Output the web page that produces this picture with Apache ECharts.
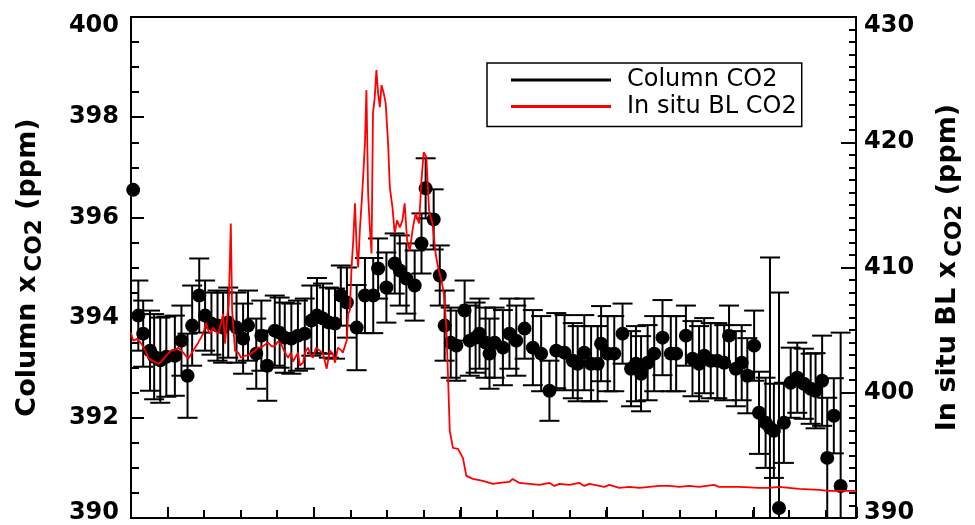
<!DOCTYPE html>
<html><head><meta charset="utf-8">
<script src="https://cdn.jsdelivr.net/npm/echarts@6/dist/echarts.min.js"></script>
<style>html,body{margin:0;padding:0;background:#fff}#c{width:975px;height:525px}</style>
</head><body><div id="c"></div>
<script>
// x: minutes after the first major tick
const colTime = [-14.1,-12.0,-10.0,-7.2,-5.5,-3.0,-0.5,3.0,5.7,8.2,10.1,13.0,15.4,18.0,20.5,22.8,24.9,28.3,31.0,33.0,36.4,38.5,40.9,44.0,46.0,48.1,50.8,53.5,56.3,59.0,61.3,63.8,66.2,68.7,71.1,73.6,77.6,81.0,84.4,86.4,89.8,93.2,95.3,98.0,101.4,104.2,105.9,109.2,111.7,113.7,116.2,118.5,121.9,124.0,126.4,128.0,130.5,132.1,134.2,137.6,140.3,143.1,146.5,149.9,153.3,156.7,159.5,162.9,166.3,168.3,171.0,173.8,176.5,177.9,180.6,183.3,186.7,190.2,192.2,194.3,197.0,199.7,203.1,206.5,208.7,212.7,215.4,218.1,220.2,222.9,225.6,228.4,230.4,233.2,235.6,237.9,240.7,242.7,245.4,247.2,248.8,250.9,252.9,255.7,258.4,261.1,263.9,265.9,268.6,270.7,273.4,276.2];
const colValue = [396.55,394.04,393.68,393.34,393.22,393.15,393.22,393.24,393.54,392.84,393.84,394.44,394.04,393.88,393.84,393.8,393.9,393.8,393.58,393.84,393.28,393.64,393.04,393.74,393.7,393.6,393.58,393.64,393.68,393.94,394.04,393.98,393.9,393.88,394.44,394.3,393.8,394.44,394.44,394.98,394.6,395.08,394.94,394.78,394.64,395.48,396.58,395.96,394.84,393.84,393.5,393.44,394.14,393.54,393.6,393.68,393.5,393.28,393.5,393.4,393.68,393.54,393.78,393.4,393.28,392.54,393.34,393.3,393.14,393.08,393.3,393.08,393.08,393.48,393.28,393.28,393.68,392.98,393.08,392.88,393.1,393.28,393.6,393.28,393.28,393.64,393.18,393.08,393.24,393.14,393.14,393.1,393.64,392.98,393.1,392.84,393.44,392.1,391.9,391.8,391.74,390.2,391.9,392.7,392.8,392.68,392.58,392.54,392.74,391.2,392.04,390.64];
const colError = [0,0.7,0.66,0.8,0.85,0.85,0.8,0.8,0.7,0.84,0.8,0.74,0.7,0.62,0.7,0.7,0.7,0.7,0.7,0.7,0.7,0.7,0.7,0.7,0.7,0.7,0.7,0.7,0.7,0.7,0.75,0.7,0.7,0.7,0.6,0.7,0.85,0.75,0.75,0.6,0.7,0.6,0.7,0.7,0.7,0.6,0.6,0.6,0.6,0.7,0.7,0.7,0.6,0.7,0.7,0.7,0.7,0.7,0.7,0.75,0.7,0.7,0.6,0.75,0.75,0.6,0.75,0.75,0.75,0.75,0.75,0.75,0.75,0.75,0.75,0.75,0.6,0.75,0.75,0.75,0.75,0.75,0.75,0.75,0.75,0.6,0.75,0.75,0.75,0.75,0.75,0.75,0.6,0.75,0.75,0.75,0.7,0.82,0.9,3.4,0.94,4.3,0.8,0.7,0.7,0.7,0.7,0.75,0.9,1.2,0.75,3.06];

const blTime = [-15,-14.1,-12.4,-10.8,-9.1,-7.9,-6.3,-3.8,-2.2,-0.5,1.5,3.1,4.4,6.4,8.5,10.5,12.6,14.6,15.8,16.7,17.5,18.7,19.9,20.8,22.0,22.8,23.6,24.4,25.1,25.5,25.95,26.5,27.7,29.0,30.2,31.8,33.0,34.7,35.9,37.1,38.4,40.0,41.2,42.9,44.1,45.3,46.6,47.8,49.4,50.6,51.5,52.3,53.5,54.3,55.6,56.4,57.6,58.8,59.7,60.9,62.5,63.8,65.3,66.6,67.8,68.7,69.9,71.4,71.9,73.5,74.1,74.8,75.5,76.2,76.9,77.6,78.2,78.9,79.7,80.3,81.0,81.6,82.3,83.0,83.7,84.3,85.0,85.7,86.4,87.1,87.8,88.7,89.5,90.5,91.2,92.3,93.2,94.2,95.3,96.4,97.3,98.3,99.4,100.7,101.8,103.2,104.2,105.1,106.2,107.3,108.7,110.0,111.0,112.4,113.4,114.4,115.1,115.8,117.1,119.2,121.2,122.6,125.3,129.4,133.5,136.2,140.3,141.6,144.4,148.5,152.6,156.7,158.8,160.8,164.9,169.0,171.0,173.1,177.2,179.2,181.3,185.4,189.5,193.6,197.7,201.8,205.9,210.0,214.0,218.1,224.3,226.3,234.5,242.7,246.8,250.9,255.0,259.1,267.3,271.4,282.5];
const blValue = [404.8,404.16,404.3,403.92,403.36,402.8,402.56,402.32,402.56,402.96,403.36,403.44,403.6,403.2,402.72,403.36,404.0,404.72,405.6,404.96,404.72,405.2,404.88,404.72,405.6,406.32,403.92,405.92,407.12,410.0,413.52,406.56,403.36,403.2,402.8,402.96,402.96,403.2,403.36,403.6,403.6,403.84,404.0,403.68,403.76,404.08,403.92,403.36,402.8,403.2,402.48,402.4,403.2,402.16,402.4,403.2,403.6,402.96,402.8,403.6,403.36,403.12,401.92,403.36,403.12,402.4,403.6,403.36,403.2,404.16,406.32,406.56,410.0,412.16,415.12,411.6,410.0,412.96,415.36,417.36,419.92,424.16,415.92,413.2,411.12,422.32,423.52,425.76,423.92,422.8,424.56,423.92,423.12,419.92,416.4,414.8,412.72,413.76,413.2,413.76,415.12,412.16,411.36,413.2,414.32,413.52,416.96,419.2,418.8,414.56,413.52,411.12,410.0,408.96,407.92,405.2,401.2,396.96,395.6,395.52,394.8,393.36,393.12,392.96,392.72,392.8,392.88,393.12,392.8,392.72,392.64,392.8,392.56,392.72,392.64,392.8,392.56,392.72,392.56,392.48,392.64,392.4,392.48,392.4,392.48,392.56,392.56,392.48,392.56,392.48,392.64,392.48,392.48,392.4,392.4,392.48,392.4,392.32,392.24,392.16,392.16];

const leftTicks = {min: 390, max: 400, step: 2};
const rightTicks = {min: 390, max: 430, step: 10};
const xRange = {min: -15, max: 282.5, minorStep: 15, majorStep: 60};
const seriesNames = ['Column CO2', 'In situ BL CO2'];

const FONT = 'DejaVu Sans';
const chart = echarts.init(document.getElementById('c'), null, {renderer: 'canvas'});

const errData = colTime.map((t, i) => [t, colValue[i] - colError[i], colValue[i] + colError[i]]);
const dotData = colTime.map((t, i) => [t, colValue[i]]);
const blData = blTime.map((t, i) => [t, blValue[i]]);

// plot frame
const G = {left: 131, right: 118, top: 17, bottom: 7};
const plotW = 975 - G.left - G.right;
const pxPerUnit = plotW / (xRange.max - xRange.min);
// second (tick-only) grid starting at the first major tick
const G2left = G.left + (0 - xRange.min) * pxPerUnit;

function edgeLabel(topVal, botVal) {
  return function (v) {
    if (v === topVal) return '{t|' + v + '}';
    if (v === botVal) return '{b|' + v + '}';
    return '{n|' + v + '}';
  };
}
const lblStyle = {fontFamily: FONT, fontWeight: 'bold', fontSize: 24, color: '#000'};
const lblRich = {
  n: Object.assign({}, lblStyle),
  t: Object.assign({padding: [18, 0, 0, 0]}, lblStyle),
  b: Object.assign({padding: [0, 0, 10, 0]}, lblStyle)
};
const nameRich = {
  m: {fontFamily: FONT, fontWeight: 'bold', fontSize: 27, color: '#000'},
  s: {fontFamily: FONT, fontWeight: 'bold', fontSize: 23, color: '#000', padding: [16, 0, 0, 4]}
};

chart.setOption({
  animation: false,
  backgroundColor: '#fff',
  grid: [
    {left: G.left, right: G.right, top: G.top, bottom: G.bottom, show: true, borderColor: '#000', borderWidth: 2},
    {left: G2left, right: G.right, top: G.top, bottom: G.bottom, show: false}
  ],
  legend: {
    orient: 'vertical', left: 487, top: 63,
    backgroundColor: '#fff', borderColor: '#000', borderWidth: 1.5,
    padding: [5, 5, 8, 24], itemGap: 2.5, itemWidth: 100, itemHeight: 3,
    textStyle: {fontFamily: FONT, fontSize: 24, color: '#000', lineHeight: 22, padding: [0, 0, 0, 11]},
    data: [
      {name: seriesNames[0], icon: 'rect', itemStyle: {color: '#000'}},
      {name: seriesNames[1], icon: 'rect', itemStyle: {color: '#ff0000'}}
    ]
  },
  xAxis: [
    {
      type: 'value', gridIndex: 0, min: xRange.min, max: xRange.max, interval: xRange.minorStep,
      axisLabel: {show: false}, splitLine: {show: false},
      axisLine: {show: true, onZero: false, lineStyle: {color: '#000', width: 2}},
      axisTick: {show: true, inside: true, length: 8, lineStyle: {color: '#000', width: 2}}
    },
    {
      type: 'value', gridIndex: 1, min: 0, max: xRange.max, interval: xRange.majorStep,
      axisLabel: {show: false}, splitLine: {show: false},
      axisLine: {show: false, onZero: false},
      axisTick: {show: true, inside: true, length: 11, lineStyle: {color: '#000', width: 2}}
    }
  ],
  yAxis: [
    {
      type: 'value', gridIndex: 0, position: 'left', min: leftTicks.min, max: leftTicks.max, interval: leftTicks.step,
      name: '{m|Column x}{s|CO2}{m| (ppm)}', nameLocation: 'middle', nameGap: 84, nameRotate: 90,
      nameTextStyle: {rich: nameRich},
      axisLine: {show: true, onZero: false, lineStyle: {color: '#000', width: 2}},
      axisTick: {show: true, inside: true, length: 13, lineStyle: {color: '#000', width: 2}},
      minorTick: {show: true, splitNumber: 4, length: 8, lineStyle: {color: '#000', width: 2}},
      axisLabel: {margin: 12, formatter: edgeLabel(400, 390), rich: lblRich},
      splitLine: {show: false}
    },
    {
      type: 'value', gridIndex: 0, position: 'right', min: rightTicks.min, max: rightTicks.max, interval: rightTicks.step,
      name: '{m|In situ BL x}{s|CO2}{m| (ppm)}', nameLocation: 'middle', nameGap: 72, nameRotate: 90,
      nameTextStyle: {rich: nameRich},
      axisLine: {show: true, onZero: false, lineStyle: {color: '#000', width: 2}},
      axisTick: {show: true, inside: true, length: 15, lineStyle: {color: '#000', width: 2}},
      minorTick: {show: true, splitNumber: 10, length: 7, lineStyle: {color: '#000', width: 2}},
      axisLabel: {margin: 8, formatter: edgeLabel(430, 390), rich: lblRich},
      splitLine: {show: false}
    },
    {
      type: 'value', gridIndex: 1, min: 0, max: 1, show: false
    }
  ],
  series: [
    {
      name: seriesNames[0], type: 'custom', xAxisIndex: 0, yAxisIndex: 0, clip: true, z: 2,
      data: errData,
      encode: {x: 0, y: [1, 2]},
      renderItem: function (params, api) {
        const x = api.value(0), lo = api.value(1), hi = api.value(2);
        if (hi - lo <= 0) return null;
        const pHi = api.coord([x, hi]);
        const pLo = api.coord([x, lo]);
        const cs = params.coordSys;
        const yTop = cs.y, yBot = cs.y + cs.height;
        const children = [];
        const s = {stroke: '#000', lineWidth: 2};
        children.push({type: 'line', shape: {x1: pHi[0], y1: Math.max(pHi[1], yTop), x2: pLo[0], y2: Math.min(pLo[1], yBot)}, style: s});
        if (pHi[1] >= yTop) children.push({type: 'line', shape: {x1: pHi[0] - 10, y1: pHi[1], x2: pHi[0] + 10, y2: pHi[1]}, style: s});
        if (pLo[1] <= yBot) children.push({type: 'line', shape: {x1: pLo[0] - 10, y1: pLo[1], x2: pLo[0] + 10, y2: pLo[1]}, style: s});
        return {type: 'group', children: children};
      }
    },
    {
      name: seriesNames[0], type: 'scatter', xAxisIndex: 0, yAxisIndex: 0, z: 3,
      symbol: 'circle', symbolSize: 14, itemStyle: {color: '#000', opacity: 1},
      data: dotData
    },
    {
      name: seriesNames[1], type: 'line', xAxisIndex: 0, yAxisIndex: 1, z: 4,
      showSymbol: false, symbol: 'none', lineStyle: {color: '#ff0000', width: 1.8},
      itemStyle: {color: '#ff0000'},
      data: blData
    }
  ]
});
</script></body></html>
